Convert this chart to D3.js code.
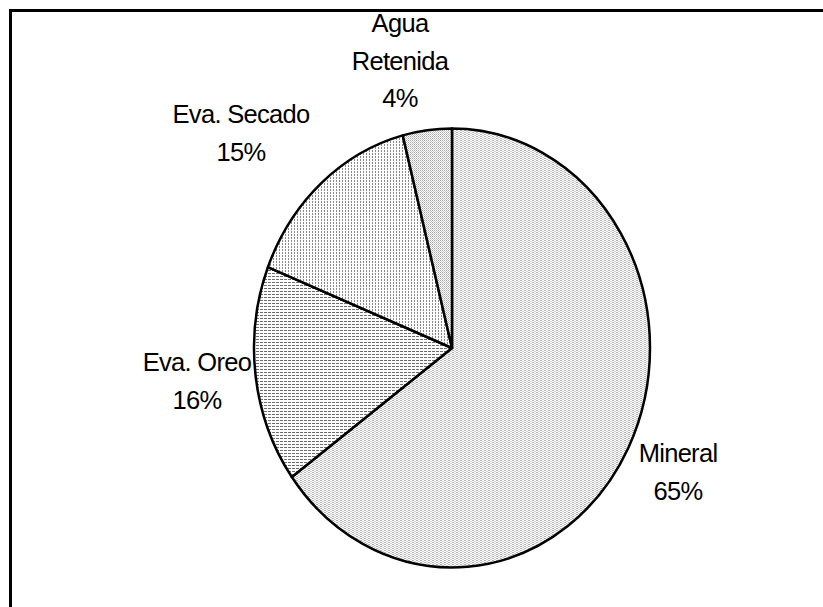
<!DOCTYPE html>
<html>
<head>
<meta charset="utf-8">
<script src="https://cdn.jsdelivr.net/npm/d3@7"></script>
<style>
  html, body { margin: 0; padding: 0; background: #fff; }
  svg { display: block; }
  text { font-family: "Liberation Sans", Arial, sans-serif; font-size: 25.5px; fill: #000; letter-spacing: -0.7px; }
</style>
</head>
<body>
<svg id="chart" width="823" height="607"></svg>
<script>
// Water balance shares (percent)
const categories = ["Mineral", "Eva. Oreo", "Eva. Secado", "Agua Retenida"];
const values = [65, 16, 15, 4];
const labelLines = [["Mineral", "65%"], ["Eva. Oreo", "16%"], ["Eva. Secado", "15%"], ["Agua", "Retenida", "4%"]];

const svg = d3.select("#chart");
const cx = 452, cy = 348, rx = 198, ry = 219.5;

// Hatch / stipple fills, one per slice
const defs = svg.append("defs");
function pattern(id, w, h, marks) {
  const p = defs.append("pattern").attr("id", id)
    .attr("patternUnits", "userSpaceOnUse").attr("width", w).attr("height", h);
  p.append("rect").attr("width", w).attr("height", h).attr("fill", "#fff");
  marks.forEach(m => p.append("rect").attr("x", m[0]).attr("y", m[1])
    .attr("width", m[2]).attr("height", m[3]).attr("fill", m[4]));
}
pattern("pMineral", 4, 2, [[0, 0, 2, 1, "#b4b4b4"], [2, 1, 2, 1, "#d2d2d2"]]);
pattern("pOreo", 4, 3, [[0, 0, 3, 1, "#6e6e6e"]]);
pattern("pSecado", 3, 3, [[0, 0, 1, 2, "#8a8a8a"]]);
pattern("pAgua", 2, 2, [[0, 0, 1, 1, "#a8a8a8"], [1, 1, 1, 1, "#c8c8c8"]]);
const fills = ["url(#pMineral)", "url(#pOreo)", "url(#pSecado)", "url(#pAgua)"];

// Outer frame
svg.append("rect").attr("x", 10.5).attr("y", 10.5).attr("width", 900).attr("height", 700)
  .attr("fill", "none").attr("stroke", "#000").attr("stroke-width", 3);

const pie = d3.pie().sort(null).value(d => d)(values);

// Point on the ellipse at angle a (clockwise from 12 o'clock)
const pt = a => [cx + rx * Math.sin(a), cy - ry * Math.cos(a)];

function slicePath(d) {
  const [x0, y0] = pt(d.startAngle), [x1, y1] = pt(d.endAngle);
  const large = (d.endAngle - d.startAngle) > Math.PI ? 1 : 0;
  return `M${cx},${cy}L${x0},${y0}A${rx},${ry} 0 ${large} 1 ${x1},${y1}Z`;
}

svg.append("g").selectAll("path").data(pie).join("path")
  .attr("d", slicePath)
  .attr("fill", (d, i) => fills[i])
  .attr("stroke", "#000").attr("stroke-width", 2.5).attr("stroke-linejoin", "round");

// Labels
const labelPos = [[678, 462], [197, 371], [241, 123], [400, 32]];
const lineGap = 37.5;
labelLines.forEach((lines, i) => {
  const t = svg.append("text").attr("text-anchor", "middle");
  lines.forEach((s, j) => t.append("tspan").attr("x", labelPos[i][0])
    .attr("y", labelPos[i][1] + j * lineGap).text(s));
});
</script>
</body>
</html>
